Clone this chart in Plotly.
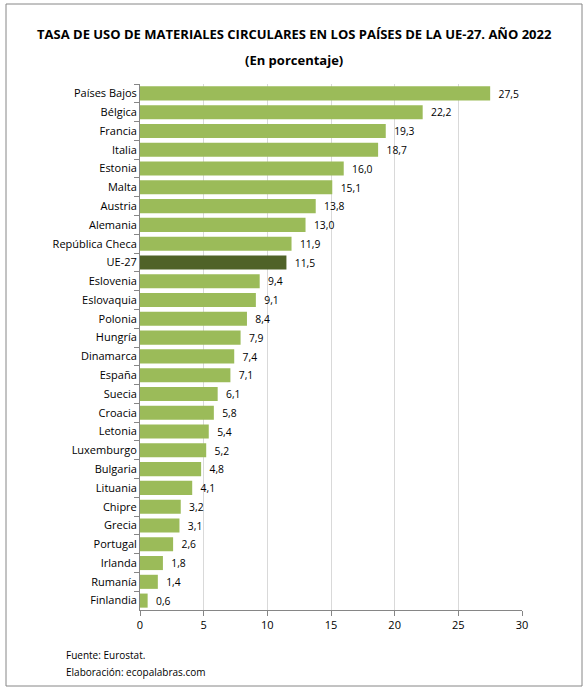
import plotly.graph_objects as go

countries = ["Países Bajos", "Bélgica", "Francia", "Italia", "Estonia", "Malta", "Austria",
             "Alemania", "República Checa", "UE-27", "Eslovenia", "Eslovaquia", "Polonia",
             "Hungría", "Dinamarca", "España", "Suecia", "Croacia", "Letonia", "Luxemburgo",
             "Bulgaria", "Lituania", "Chipre", "Grecia", "Portugal", "Irlanda", "Rumanía", "Finlandia"]
values = [27.5, 22.2, 19.3, 18.7, 16.0, 15.1, 13.8, 13.0, 11.9, 11.5, 9.4, 9.1, 8.4,
          7.9, 7.4, 7.1, 6.1, 5.8, 5.4, 5.2, 4.8, 4.1, 3.2, 3.1, 2.6, 1.8, 1.4, 0.6]
highlight = "UE-27"

W, H = 588, 691
L, R, T, B = 140, 522, 84, 610

colors = ["#4F6228" if c == highlight else "#9BBB59" for c in countries]

fig = go.Figure(go.Bar(
    x=values, y=countries, orientation="h",
    marker=dict(color=colors, line=dict(width=0)),
    texttemplate="\u00a0\u00a0%{x:.1f}", textposition="outside",
    textfont=dict(size=11, color="#000000"),
    cliponaxis=False,
))

font = "Open Sans, sans-serif"

def px(xp):
    return (xp - L) / (R - L)

def py(yp):
    return (B - yp) / (B - T)

fig.update_layout(
    width=W, height=H,
    margin=dict(l=L, r=W - R, t=T, b=H - B),
    paper_bgcolor="white", plot_bgcolor="white",
    separators=",.",
    bargap=0.25,
    showlegend=False,
    font=dict(family=font, size=11, color="#000000"),
    xaxis=dict(range=[0, 30], dtick=5, tick0=0, showgrid=True, gridcolor="#D9D9D9",
               gridwidth=1, zeroline=False, showline=True, linecolor="#868686",
               ticks="outside", ticklen=5, tickcolor="#868686",
               tickfont=dict(size=11, family=font), fixedrange=True),
    yaxis=dict(autorange="reversed", showline=True, linecolor="#868686",
               ticks="outside", ticklen=5, tickcolor="#868686", tickson="boundaries",
               tickfont=dict(size=11, family=font), showgrid=False, fixedrange=True),
    annotations=[
        dict(text="<b>TASA DE USO DE MATERIALES CIRCULARES EN LOS PAÍSES DE LA UE-27. AÑO 2022</b>",
             xref="paper", yref="paper", x=px(294), y=py(34), xanchor="center", yanchor="middle",
             showarrow=False, font=dict(size=13, family=font)),
        dict(text="<b>(En porcentaje)</b>",
             xref="paper", yref="paper", x=px(294), y=py(60), xanchor="center", yanchor="middle",
             showarrow=False, font=dict(size=13, family=font)),
        dict(text="Fuente: Eurostat.",
             xref="paper", yref="paper", x=px(64), y=py(655), xanchor="left", yanchor="middle",
             showarrow=False, font=dict(size=10, family=font)),
        dict(text="Elaboración: ecopalabras.com",
             xref="paper", yref="paper", x=px(64), y=py(672), xanchor="left", yanchor="middle",
             showarrow=False, font=dict(size=10, family=font)),
    ],
    shapes=[dict(type="rect", xref="paper", yref="paper",
                 x0=px(6), x1=px(582), y0=py(686), y1=py(4),
                 line=dict(color="#868686", width=1), fillcolor="rgba(0,0,0,0)", layer="below")],
)

fig.write_html("out.html", config={"displayModeBar": False},
               post_script="document.body.style.margin='0';document.body.style.overflow='hidden';")
